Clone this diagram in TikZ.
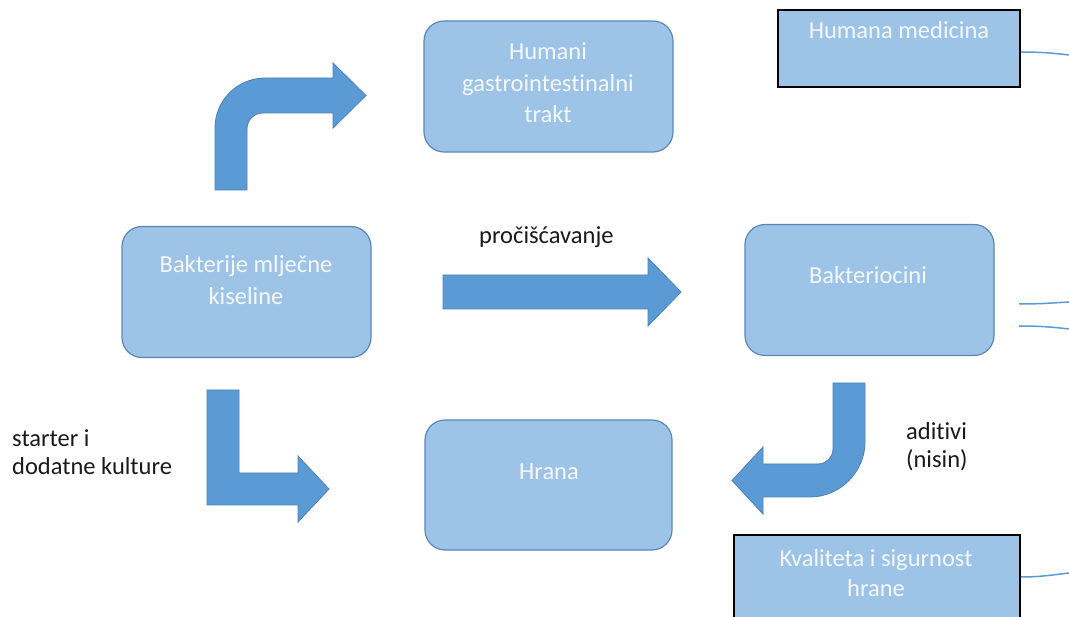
\documentclass[tikz,border=0pt]{standalone}
\usepackage{fontspec}
\setmainfont{Carlito}[RawFeature={-liga}]
\definecolor{boxfill}{HTML}{9DC3E6}
\definecolor{boxline}{HTML}{5A87B8}
\definecolor{arrfill}{HTML}{5B9BD5}
\definecolor{arrline}{HTML}{4A80B8}
\definecolor{boxtext}{HTML}{F4F8FC}
\definecolor{lbltext}{HTML}{1A1A1A}
\begin{document}
\begin{tikzpicture}[x=1pt,y=-1pt,
  rbox/.style={draw=boxline, line width=1.2pt, fill=boxfill, rounded corners=20pt, minimum width=249pt, minimum height=131pt, inner sep=0pt},
  sbox/.style={draw=black, line width=1.5pt, fill=boxfill, inner sep=0pt},
  intext/.style={text=boxtext, font=\fontsize{24.5}{30}\selectfont, inner sep=0pt, anchor=base},
  lbl/.style={text=lbltext, font=\fontsize{24.5}{30}\selectfont, inner sep=0pt, anchor=base west},
  blockarrow/.style={fill=arrfill, draw=arrline, line width=0.8pt, line join=miter},
  link/.style={draw=arrfill, line width=1.5pt}]
\clip (0,0) rectangle (1069,617);
\fill[white] (0,0) rectangle (1069,617);

% rounded boxes
\node[rbox] (gi) at (548.5,86.5) {};
\node[rbox] (lab) at (246.5,292) {};
\node[rbox] (bac) at (869.5,290) {};
\node[rbox, minimum width=247pt, minimum height=130pt] (hrana) at (548.5,485) {};

% square boxes
\node[sbox, minimum width=242pt, minimum height=77pt] (med) at (899,48.5) {};
\node[sbox, minimum width=286pt, minimum height=90pt] (kval) at (877,580) {};

% box texts
\node[intext] (gi1) at (548,60) {Humani};
\node[intext] (gi2) at (548,92) {gastrointestinalni};
\node[intext] (gi3) at (548,123) {trakt};
\node[intext] (lab1) at (246,273) {Bakterije mlječne};
\node[intext] (lab2) at (246,305) {kiseline};
\node[intext] (bac1) at (868,284) {Bakteriocini};
\node[intext] (hr1) at (549,480) {Hrana};
\node[intext] (med1) at (899,39) {Humana medicina};
\node[intext] (kv1) at (876,566) {Kvaliteta i sigurnost};
\node[intext] (kv2) at (876,596) {hrane};

% labels
\node[lbl] (p1) at (479,244) {pročišćavanje};
\node[lbl] (s1) at (12,447) {starter i};
\node[lbl] (s2) at (12,475) {dodatne kulture};
\node[lbl] (a1) at (906,440) {aditivi};
\node[lbl] (a2) at (906,468) {(nisin)};

% block arrows
\draw[blockarrow] (215,190) -- (215,128) .. controls (215,100.4) and (237.4,78) .. (265,78)
  -- (333,78) -- (333,63) -- (366,95.5) -- (333,128) -- (333,113) -- (263,113)
  .. controls (254,113) and (247,120) .. (247,129) -- (247,190) -- cycle;
\draw[blockarrow] (443,275) -- (648,275) -- (648,258) -- (681,292) -- (648,326) -- (648,309) -- (443,309) -- cycle;
\draw[blockarrow] (207,390) -- (239,390) -- (239,473) -- (298,473) -- (298,456) -- (329,489) -- (298,522) -- (298,505) -- (207,505) -- cycle;
\draw[blockarrow] (833,383) -- (865,383) -- (865,442) .. controls (865,472) and (840,497) .. (810,497)
  -- (763,497) -- (763,514) -- (732,480.5) -- (763,447) -- (763,464) -- (818,464)
  .. controls (826,464) and (833,457) .. (833,449) -- cycle;

% links to the right edge
\coordinate (m1) at (1069,55);
\coordinate (b1s) at (1019,304);
\coordinate (b1e) at (1069,302);
\coordinate (b2s) at (1019,326);
\coordinate (b2e) at (1069,329);
\coordinate (k1) at (1069,573);
\draw[link] ([yshift=-3.5pt]med.east) .. controls (1040,52) and (1052,53) .. (m1);
\draw[link] (b1s) .. controls (1040,304) and (1052,303) .. (b1e);
\draw[link] (b2s) .. controls (1040,326) and (1052,327) .. (b2e);
\draw[link] ([yshift=3pt]kval.east) .. controls (1040,577) and (1052,575) .. (k1);
\end{tikzpicture}
\end{document}
